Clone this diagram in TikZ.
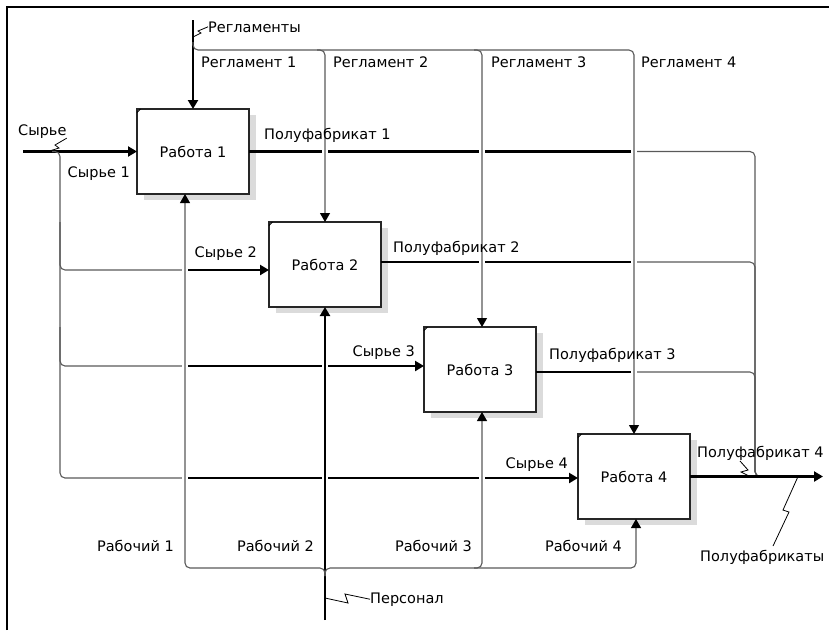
\documentclass[tikz,border=0pt]{standalone}
\usepackage{fontspec}
\setmainfont{DejaVu Sans}
\usepackage{tikz}
\usetikzlibrary{arrows.meta,positioning,shadows}

\begin{document}
\begin{tikzpicture}[x=1pt,y=1pt,>={Triangle[length=9pt,width=10pt,color=black]},font=\fontsize{14.5}{17}\selectfont,
	work/.style={draw=black!85,line width=1.1pt,fill=white,minimum width=112pt,minimum height=85pt,inner sep=0pt,outer sep=0pt,drop shadow={shadow xshift=6.5pt,shadow yshift=-6pt,fill=black!14,opacity=1}},
	main/.style={line width=2.6pt},
	feed/.style={line width=1.1pt,draw=black!65,rounded corners=5pt},
	leader/.style={line width=0.8pt},
	tag/.style={inner sep=0pt,anchor=base west},
	tagr/.style={inner sep=0pt,anchor=base east},
	gap/.style={fill=white}]
	\useasboundingbox (0,0) rectangle (829,-630);
	\draw[line width=1.2pt] (7,-630) -- (7,-7) -- (829,-7);

	\node[work]	(w1)	at (193,-151.5)						{Работа 1};
	\node[work]	(w2)	[below right=28pt and 20pt of w1]	{Работа 2};
	\node[work]	(w3)	[below right=20pt and 43pt of w2]	{Работа 3};
	\node[work]	(w4)	[below right=22pt and 42pt of w3]	{Работа 4};
	\foreach \w in {w1,w2,w3,w4}
		\draw[line width=0.8pt] ([yshift=-3.5pt]\w.north west) -- ([xshift=3.5pt]\w.north west);

	\coordinate (in2)		at ([yshift=-5.5pt]w2.west);
	\coordinate (in3)		at ([yshift=3.5pt]w3.west);
	\coordinate (in4)		at ([yshift=-1.5pt]w4.west);
	\coordinate (c3)		at ([xshift=2pt]w3.north);
	\coordinate (m1)		at ([xshift=-8pt]w1.south);
	\coordinate (m3)		at ([xshift=2pt]w3.south);
	\coordinate (m4)		at ([xshift=2pt]w4.south);
	\coordinate (o2)		at ([yshift=2.5pt]w2.east);
	\coordinate (o3)		at ([yshift=-2.5pt]w3.east);
	\coordinate (raw)		at (23,-151.5);
	\coordinate (rawbus)	at (60,-151.5);
	\coordinate (ctltop)	at (193,-20);
	\coordinate (ctlbus)	at (193,-50);
	\coordinate (perstop)	at (325,-620);
	\coordinate (persbus)	at (325,-568);
	\coordinate (outbus)	at (755,-151.5);
	\coordinate (outend)	at (823,-476.5);

	\draw[main,->] (raw) -- (w1.west);
	\draw[feed] ([xshift=-8pt]rawbus) -| (rawbus |- in4) -- (m1 |- in4);
	\draw[feed] (rawbus |- w2.north) |- (m1 |- in2);
	\draw[feed] (rawbus |- w3.north) |- (m1 |- in3);
	\path[main,->]
		(m1 |- in2)	edge	(in2)
		(m1 |- in3)	edge	(in3)
		(m1 |- in4)	edge	(in4)
	;

	\draw[feed] (w4.north |- w1.east) -| (outbus |- w4.east) -- ++(6,0);
	\draw[feed] (w4.north |- o2) -| (outbus |- w4.east) -- ++(6,0);
	\draw[feed] (w4.north |- o3) -| (outbus |- w4.east) -- ++(6,0);
	\draw[main] (w1.east) -- (w4.north |- w1.east);
	\draw[main] (o2) -- (w4.north |- o2);
	\draw[main] (o3) -- (w4.north |- o3);
	\draw[main,->] (w4.east) -- (outend);

	\foreach \g in {w2.north |- w1.east, c3 |- w1.east, w4.north |- w1.east, c3 |- o2, w4.north |- o2, w4.north |- o3, m1 |- in2, m1 |- in3, w2.south |- in3, m1 |- in4, w2.south |- in4, m3 |- in4}
		\fill[gap] (\g) ++(-3,-3.5) rectangle ++(6,7);

	\draw[main,->] (ctltop) -- (w1.north);
	\draw[feed,->] ([yshift=8pt]ctlbus) |- (w4.north |- ctlbus) -- (w4.north);
	\draw[feed,->] (w2.north |- ctlbus) ++(-8,0) -| (w2.north);
	\draw[feed,->] (c3 |- ctlbus) ++(-8,0) -| (c3);

	\draw[main,->] (perstop) -- (w2.south);
	\draw[feed,->] ([yshift=-8pt]persbus) |- (m1 |- persbus) -- (m1);
	\draw[feed,->] ([yshift=-8pt]persbus) |- (m4 |- persbus) -- (m4);
	\draw[feed,->] (m3 |- persbus) ++(-8,0) -| (m3);

	\node[tag]	(tRegs)	at (208,-32)	{Регламенты};
	\node[tag]	(tReg1)	at (201,-67)	{Регламент 1};
	\node[tag]	(tReg2)	at (333,-67)	{Регламент 2};
	\node[tag]	(tReg3)	at (491,-67)	{Регламент 3};
	\node[tag]	(tReg4)	at (641,-67)	{Регламент 4};
	\node[tag]	(tRaw)	at (18,-135)	{Сырье};
	\node[tagr]	(tRaw1)	at (130,-177)	{Сырье 1};
	\node[tagr]	(tRaw2)	at (257,-257)	{Сырье 2};
	\node[tagr]	(tRaw3)	at (415,-356)	{Сырье 3};
	\node[tagr]	(tRaw4)	at (568,-468)	{Сырье 4};
	\node[tag]	(tOut1)	at (264,-139)	{Полуфабрикат 1};
	\node[tag]	(tOut2)	at (393,-252)	{Полуфабрикат 2};
	\node[tag]	(tOut3)	at (549,-359)	{Полуфабрикат 3};
	\node[tag]	(tOut4)	at (697,-457)	{Полуфабрикат 4};
	\node[tag]	(tOuts)	at (700,-561)	{Полуфабрикаты};
	\node[tagr]	(tMan1)	at (174,-551)	{Рабочий 1};
	\node[tagr]	(tMan2)	at (314,-551)	{Рабочий 2};
	\node[tagr]	(tMan3)	at (472,-551)	{Рабочий 3};
	\node[tagr]	(tMan4)	at (622,-551)	{Рабочий 4};
	\node[tag]	(tPers)	at (370,-603)	{Персонал};

	\draw[leader] (193,-37) -- (201,-33) -- (198,-31) -- (tRegs.west);
	\draw[leader] (tRaw.south east) -- (55,-145) -- (59,-148) -- (48,-151.5);
	\draw[leader] (325,-598) -- (348,-603) -- (345,-594) -- (tPers.west);
	\draw[leader] (740,-461) -- (748,-470) -- (741,-472) -- (750,-476.5);
	\draw[leader] (798,-476.5) -- (783,-510) -- (789,-512) -- (773,-546);
\end{tikzpicture}
\end{document}
